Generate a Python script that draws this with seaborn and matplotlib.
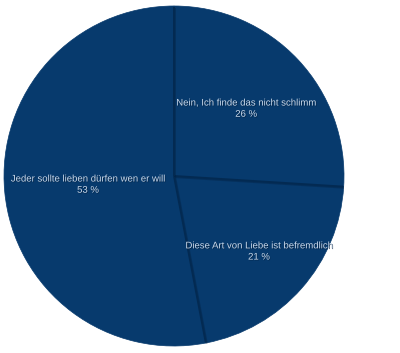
import numpy as np
import matplotlib
matplotlib.use("Agg")
import matplotlib.pyplot as plt
import matplotlib.patheffects as pe
import seaborn as sns

categories = ["Nein, Ich finde das nicht schlimm",
              "Diese Art von Liebe ist befremdlich",
              "Jeder sollte lieben dürfen wen er will"]
values = [26, 21, 53]
pct_labels = ["26 %", "21 %", "53 %"]

sns.set_theme(style="white")
plt.rcParams['font.family'] = ['Liberation Sans', 'DejaVu Sans']

fill = "#073a6d"
edge = "#032a52"
colors = sns.color_palette([fill] * len(values))

fig = plt.figure(figsize=(4.0, 3.53), dpi=100)
fig.patch.set_facecolor("white")
ax = fig.add_axes([4/400, 7/353, 340/400, 340/353])
wedges, _ = ax.pie(values, colors=colors, startangle=90, counterclock=False,
                   wedgeprops=dict(edgecolor=fill, linewidth=0.5))
ax.set_xlim(-1, 1)
ax.set_ylim(-1, 1)
ax.set_aspect("equal")
ax.axis("off")

# separator lines between slices
for w in wedges:
    a = np.deg2rad(w.theta1)
    ax.plot([0, np.cos(a) * 0.997], [0, np.sin(a) * 0.997], color=edge, lw=1.4,
            solid_capstyle="butt",
            path_effects=[pe.SimpleLineShadow(offset=(0.8, -0.8), shadow_color="#021d3a", alpha=0.35), pe.Normal()])

label_r = [0.583, 0.667, 0.508]
for w, cat, p, r in zip(wedges, categories, pct_labels, label_r):
    ang = np.deg2rad((w.theta1 + w.theta2) / 2)
    x, y = r * np.cos(ang), r * np.sin(ang)
    ax.text(x, y, f"{cat}\n{p}", ha="center", va="center", fontsize=6.9,
            color="#c9d9ec", linespacing=1.15,
            path_effects=[pe.withSimplePatchShadow(offset=(0.5, -0.5), shadow_rgbFace="#021d3a", alpha=0.8)])

fig.savefig("out.png", dpi=100, facecolor="white")
